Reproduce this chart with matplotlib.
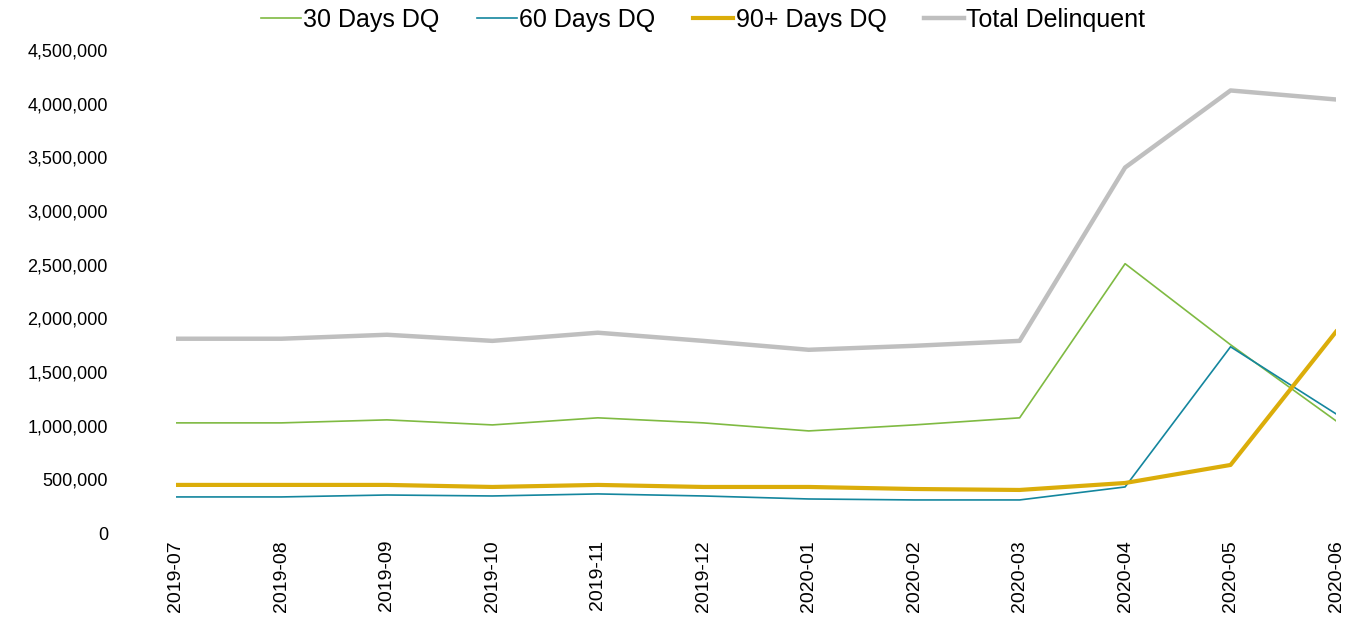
import matplotlib
matplotlib.use("Agg")
import matplotlib.pyplot as plt
from matplotlib.ticker import FuncFormatter

plt.rcParams['font.family'] = ['Liberation Sans', 'DejaVu Sans']

months = ["2019-07", "2019-08", "2019-09", "2019-10", "2019-11", "2019-12",
          "2020-01", "2020-02", "2020-03", "2020-04", "2020-05", "2020-06"]
dq30 = [1026000, 1026000, 1054000, 1007000, 1073000, 1026000,
        951000, 1007000, 1073000, 2509000, 1754000, 1045000]
dq60 = [336000, 336000, 354000, 345000, 364000, 345000,
        317000, 308000, 308000, 429000, 1735000, 1110000]
dq90 = [448000, 448000, 448000, 429000, 448000, 429000,
        429000, 410000, 401000, 466000, 634000, 1875000]
total = [1810000, 1810000, 1847000, 1790000, 1866000, 1790000,
         1707000, 1744000, 1790000, 3405000, 4123000, 4039000]

fig = plt.figure(figsize=(13.69, 6.24), dpi=100)
ax = fig.add_axes([176/1369, (624-533)/624, (1336-176)/1369, (533-50)/624])

x = list(range(len(months)))
ax.plot(x, dq30, color="#7fba42", lw=1.2, label="30 Days DQ")
ax.plot(x, dq60, color="#14869e", lw=1.2, label="60 Days DQ")
ax.plot(x, dq90, color="#dbad0a", lw=3.0, label="90+ Days DQ")
ax.plot(x, total, color="#bfbfbf", lw=3.2, label="Total Delinquent")

ax.set_xlim(0, len(months) - 1)
ax.set_ylim(0, 4500000)
ax.set_yticks(range(0, 4500001, 500000))
ax.yaxis.set_major_formatter(FuncFormatter(lambda v, p: f"{int(v):,}"))
ax.set_xticks(x)
ax.set_xticklabels(months, rotation=90)
ax.tick_params(axis='both', length=0, labelcolor="black")
ax.tick_params(axis='y', pad=49, labelsize=13)
ax.tick_params(axis='x', pad=5, labelsize=14)
for s in ax.spines.values():
    s.set_visible(False)

fig.legend(loc="upper center", bbox_to_anchor=(703/1369, 1.023), ncol=4, frameon=False,
           fontsize=18, handlelength=1.6, handletextpad=0.1, columnspacing=1.5)

fig.savefig("out.png", dpi=100)
